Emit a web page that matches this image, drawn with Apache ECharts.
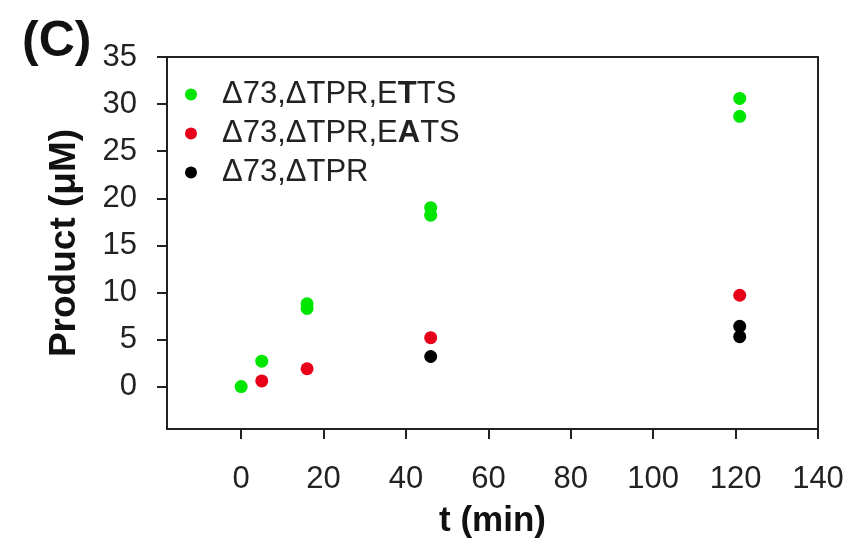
<!DOCTYPE html>
<html>
<head>
<meta charset="utf-8">
<script src="https://cdn.jsdelivr.net/npm/echarts@6/dist/echarts.min.js"></script>
<style>
html,body{margin:0;padding:0;background:#fff;}
#chart{width:852px;height:548px;}
</style>
</head>
<body>
<div id="chart"></div>
<script>
// Series names
const seriesNames = ['Δ73,ΔTPR,ETTS', 'Δ73,ΔTPR,EATS', 'Δ73,ΔTPR'];
// ETTS (green)
const ettsT = [0, 5, 16, 16, 46, 46, 121, 121];
const ettsY = [0, 2.7, 8.3, 8.8, 18.2, 19.0, 28.7, 30.6];
// EATS (red)
const eatsT = [5, 16, 46, 121];
const eatsY = [0.6, 1.9, 5.2, 9.7];
// ΔTPR only (black)
const tprT = [46, 121, 121];
const tprY = [3.2, 5.3, 6.4];
// Tick labels
const xTicks = [0, 20, 40, 60, 80, 100, 120, 140];
const yTicks = [0, 5, 10, 15, 20, 25, 30, 35];

const colors = ['#00e600', '#e8001a', '#000000'];
const zip = (a, b) => a.map((v, i) => [v, b[i]]);

const font = 'Liberation Sans, Arial, sans-serif';
const chart = echarts.init(document.getElementById('chart'));
chart.setOption({
  animation: false,
  backgroundColor: '#fff',
  grid: {
    left: 167, top: 57, right: 34, bottom: 119,
    show: true, borderColor: '#222', borderWidth: 2, backgroundColor: 'transparent'
  },
  title: {
    text: '(C)', left: 17, top: 12,
    textStyle: { fontFamily: font, fontWeight: 'bold', fontSize: 50, color: '#111' }
  },
  legend: {
    orient: 'vertical', left: 180, top: 74,
    itemWidth: 20, itemHeight: 12, itemGap: 8,
    icon: 'circle', symbolKeepAspect: true,
    data: seriesNames,
    formatter: function (name) {
      if (name === seriesNames[0]) return '{n|Δ73,ΔTPR,E}{b|T}{n|TS}';
      if (name === seriesNames[1]) return '{n|Δ73,ΔTPR,E}{b|A}{n|TS}';
      return '{n|' + name + '}';
    },
    textStyle: {
      fontFamily: font, fontSize: 31, color: '#222', padding: [0, 0, 0, 16],
      rich: {
        n: { fontFamily: font, fontSize: 31, color: '#222' },
        b: { fontFamily: font, fontSize: 31, color: '#222', fontWeight: 'bold' }
      }
    }
  },
  xAxis: {
    type: 'value', min: -18, max: 140,
    name: 't (min)', nameLocation: 'middle', nameGap: 75,
    nameTextStyle: { fontFamily: font, fontWeight: 'bold', fontSize: 35, color: '#111' },
    axisLine: { show: true, onZero: false, lineStyle: { color: '#222', width: 2 } },
    axisTick: { show: true, inside: false, length: 10, customValues: xTicks, lineStyle: { color: '#222', width: 2 } },
    axisLabel: { customValues: xTicks, margin: 35, fontFamily: font, fontSize: 31, color: '#222' },
    splitLine: { show: false }
  },
  yAxis: {
    type: 'value', min: -4.5, max: 35,
    name: 'Product (μM)', nameLocation: 'middle', nameGap: 84,
    nameTextStyle: { fontFamily: font, fontWeight: 'bold', fontSize: 37, color: '#111' },
    axisLine: { show: true, onZero: false, lineStyle: { color: '#222', width: 2 } },
    axisTick: { show: true, inside: false, length: 10, customValues: yTicks, lineStyle: { color: '#222', width: 2 } },
    axisLabel: { customValues: yTicks, margin: 30, fontFamily: font, fontSize: 31, color: '#222' },
    splitLine: { show: false }
  },
  series: [
    { name: seriesNames[0], type: 'scatter', symbol: 'circle', symbolSize: 13,
      itemStyle: { color: colors[0], opacity: 1 }, data: zip(ettsT, ettsY), z: 3 },
    { name: seriesNames[1], type: 'scatter', symbol: 'circle', symbolSize: 13,
      itemStyle: { color: colors[1], opacity: 1 }, data: zip(eatsT, eatsY), z: 4 },
    { name: seriesNames[2], type: 'scatter', symbol: 'circle', symbolSize: 13,
      itemStyle: { color: colors[2], opacity: 1 }, data: zip(tprT, tprY), z: 2 }
  ]
});
</script>
</body>
</html>
